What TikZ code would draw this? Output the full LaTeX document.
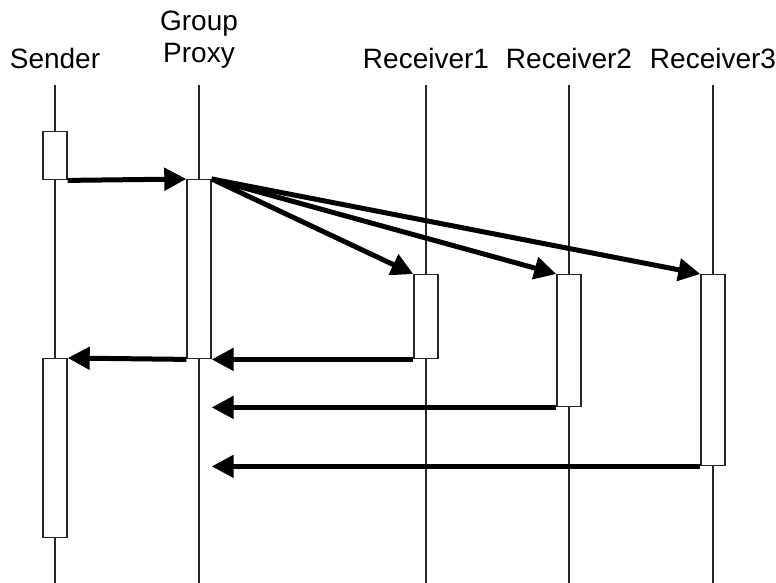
\documentclass[tikz,border=0pt]{standalone}
\usepackage{fontspec}
\setmainfont{Liberation Sans}
\usetikzlibrary{arrows.meta}

\begin{document}
\begin{tikzpicture}[x=1pt,y=-1pt,
  lifeline/.style={line width=1.4pt,black!85},
  actbox/.style={draw=black!85,line width=1.4pt,fill=white,minimum width=24pt,inner sep=0pt},
  msg/.style={line width=5pt,-{Triangle[length=22pt,width=22pt]}},
  lbl/.style={anchor=base,inner sep=0pt,font=\fontsize{28}{32}\selectfont}]
  \useasboundingbox (0,0) rectangle (776,583);
  % participants
  \node[lbl] (sndr) at (55,69) {Sender};
  \node[lbl,align=center] (prx) at (199,63) {Group\\Proxy};
  \node[lbl] (rcv1) at (426,69) {Receiver1};
  \node[lbl] (rcv2) at (569,69) {Receiver2};
  \node[lbl] (rcv3) at (713,69) {Receiver3};
  % lifelines
  \foreach \n/\x in {sndr/55,prx/199,rcv1/426,rcv2/569,rcv3/713}
    \draw[lifeline] (\x,85) -- (\x,583);
  % activation boxes
  \node[actbox,minimum height=48pt,anchor=north] (s1) at (55,131) {};
  \node[actbox,minimum height=179pt,anchor=north] (s2) at (55,358) {};
  \node[actbox,minimum height=179pt,anchor=north] (p1) at (199,179) {};
  \node[actbox,minimum height=84pt,anchor=north] (r1) at (426,274) {};
  \node[actbox,minimum height=132pt,anchor=north] (r2) at (569,274) {};
  \node[actbox,minimum height=191pt,anchor=north] (r3) at (713,274) {};
  % messages
  \draw[msg] (s1.south east) -- (p1.north west);
  \draw[msg] (p1.north east) -- (r1.north west);
  \draw[msg] (p1.north east) -- (r2.north west);
  \draw[msg] (p1.north east) -- (r3.north west);
  \draw[msg] (r1.south west) -- (p1.south east);
  \draw[msg] (p1.south west) -- (s2.north east);
  \draw[msg] (r2.south west) -- (r2.south west -| p1.east);
  \draw[msg] (r3.south west) -- (r3.south west -| p1.east);
\end{tikzpicture}
\end{document}
